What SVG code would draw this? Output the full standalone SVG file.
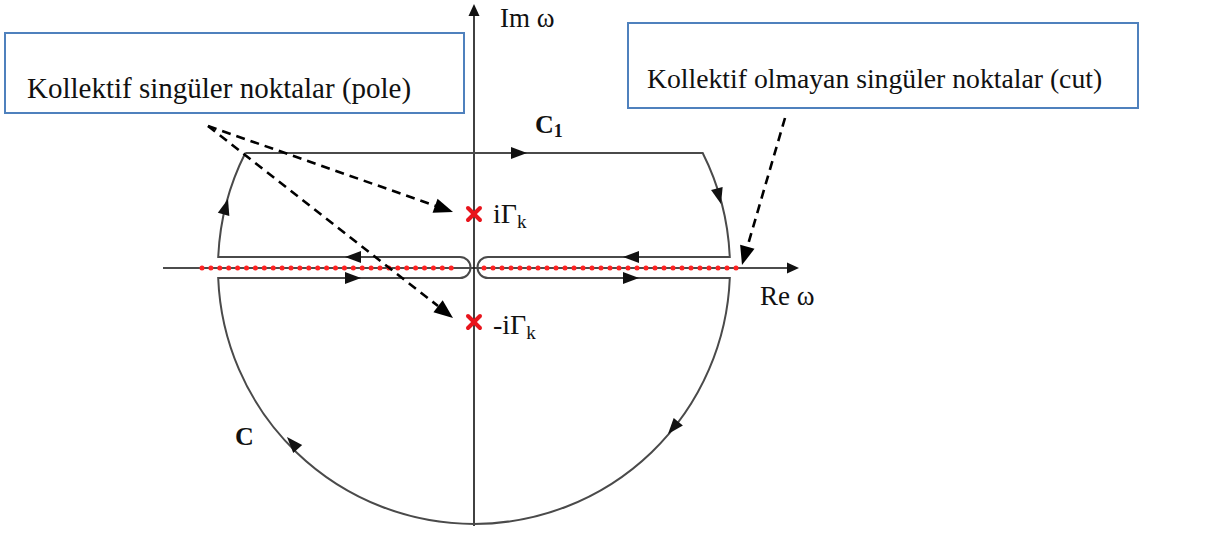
<svg xmlns="http://www.w3.org/2000/svg" xmlns:xlink="http://www.w3.org/1999/xlink" width="1221" height="542" viewBox="0 0 1221 542">
<style>
.txt{font-family:"Liberation Serif","Times New Roman",serif;fill:#111}
.box{fill:#fff;stroke:#4f81bd;stroke-width:2}
.axis{stroke:#111;stroke-width:1.6;fill:none}
.contour{stroke:#4a4a4a;stroke-width:2;fill:none}
.dash{stroke:#000;stroke-width:2.6;stroke-dasharray:9 6;fill:none}
.dots{stroke:#f22;stroke-width:5;stroke-linecap:round;fill:none}
.pole{stroke:#e8141c;stroke-width:4;stroke-linecap:round}
</style>
<defs>
<path id="ah" d="M0,0 L-16,-6 L-16,6 Z" fill="#111"/>
<path id="dh" d="M0,0 L-19,-7.5 L-19,7.5 Z" fill="#000"/>
<path id="axh" d="M0,0 L-12,-5.5 L-12,5.5 Z" fill="#111"/>
</defs>

<g id="box-pole">
<rect class="box" x="5" y="33" width="459" height="80"/>
<text class="txt" x="27" y="98" font-size="29">Kollektif singüler noktalar (pole)</text>
</g>
<g id="box-cut">
<rect class="box" x="628" y="23" width="510" height="85"/>
<text class="txt" x="647" y="88" font-size="27.7">Kollektif olmayan singüler noktalar (cut)</text>
</g>

<g id="axes">
<line class="axis" x1="474" y1="12" x2="474" y2="526"/>
<use xlink:href="#axh" transform="translate(474,4) rotate(-90)"/>
<line class="axis" x1="163" y1="268" x2="790" y2="268"/>
<use xlink:href="#axh" transform="translate(799,268)"/>
<text class="txt" x="500" y="27" font-size="27">Im ω</text>
<text class="txt" x="760" y="305" font-size="27">Re ω</text>
</g>

<g id="cut-dots">
<line class="dots" x1="202" y1="268" x2="460" y2="268" stroke-dasharray="0 8.9"/>
<line class="dots" x1="484" y1="268" x2="745" y2="268" stroke-dasharray="0 9"/>
</g>

<g id="contour">
<path class="contour" d="M245.3,153 L702.7,153 A256,256 0 0 1 729.76,257 L488,257 A10.5,10.5 0 0 0 488,278 L729.8,278 A256,256 0 0 1 218.2,278 L460,278 A10.5,10.5 0 0 0 460,257 L218.24,257 A256,256 0 0 1 245.3,153"/>
<use xlink:href="#ah" transform="translate(527,153)"/>
<use xlink:href="#ah" transform="translate(345,257) rotate(180)"/>
<use xlink:href="#ah" transform="translate(361,278)"/>
<use xlink:href="#ah" transform="translate(623,257) rotate(180)"/>
<use xlink:href="#ah" transform="translate(639,278)"/>
<use xlink:href="#ah" transform="translate(228,199) rotate(-74)"/>
<use xlink:href="#ah" transform="translate(721,204) rotate(75)"/>
<use xlink:href="#ah" transform="translate(668,434) rotate(130)"/>
<use xlink:href="#ah" transform="translate(287,437) rotate(228)"/>
<text class="txt" x="535" y="133" font-size="26" font-weight="bold">C<tspan font-size="18" dy="4">1</tspan></text>
<text class="txt" x="235" y="445" font-size="26" font-weight="bold">C</text>
</g>

<g id="pole-upper">
<line class="pole" x1="468" y1="208" x2="480" y2="220"/>
<line class="pole" x1="480" y1="208" x2="468" y2="220"/>
<text class="txt" x="493" y="223" font-size="28">iΓ<tspan font-size="19" dy="5">k</tspan></text>
</g>
<g id="pole-lower">
<line class="pole" x1="468" y1="316" x2="480" y2="328"/>
<line class="pole" x1="480" y1="316" x2="468" y2="328"/>
<text class="txt" x="493" y="334" font-size="28">-iΓ<tspan font-size="19" dy="5">k</tspan></text>
</g>

<g id="connectors">
<line class="dash" x1="208" y1="126" x2="436" y2="206"/>
<use xlink:href="#dh" transform="translate(453,212) rotate(19.3)"/>
<line class="dash" x1="208" y1="126" x2="438" y2="306"/>
<use xlink:href="#dh" transform="translate(453,318) rotate(38.1)"/>
<line class="dash" x1="785" y1="118" x2="747" y2="248"/>
<use xlink:href="#dh" transform="translate(742,265) rotate(106.3)"/>
</g>
</svg>
